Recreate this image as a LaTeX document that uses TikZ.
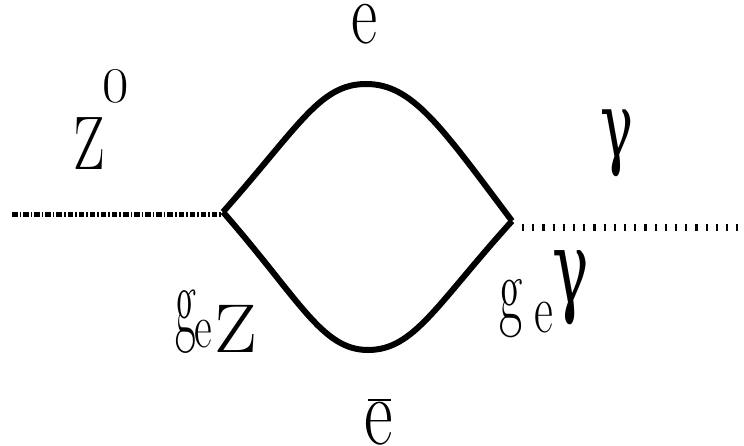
\documentclass[tikz,border=0pt]{standalone}
\usepackage{graphicx}
\usepackage{fontspec}
\newfontfamily\gfont{DejaVu Serif}
\newcommand{\glyph}[3]{\scalebox{#2}[1]{\fontsize{#1}{#1}\selectfont #3}}
\tikzset{
  lbl/.style={inner sep=0pt, outer sep=0pt},
  prop/.style={line width=6pt, line cap=butt},
  zline/.style={line width=5pt, dash pattern=on 5.5pt off 2pt on 1.6pt off 2pt},
  gline/.style={line width=7pt, dash pattern=on 2.2pt off 8pt}
}
\begin{document}
\begin{tikzpicture}[x=1pt,y=-1pt]
\useasboundingbox (0,0) rectangle (744,446);
\coordinate (L) at (223,212);
\coordinate (R) at (512,221);
\coordinate (T) at (366,84);
\coordinate (B) at (368,350);
\coordinate (zs) at (12,215);
\coordinate (ze) at (221,215);
\coordinate (gs) at (522,228);
\coordinate (ge) at (744,228);
% propagators
\draw[zline] (zs) -- (ze);
\draw[gline] (gs) -- (ge);
\draw[prop] (L) .. controls (300,125) and (320,84) .. (T) .. controls (412,84) and (440,125) .. (R);
\draw[prop] (L) .. controls (300,300) and (322,350) .. (B) .. controls (414,350) and (436,305) .. (R);
% labels
\node[lbl, anchor=base] (etop) at (364.5,44) {\glyph{89pt}{0.72}{e}};
\node[lbl] (Zbig) at (89,144) {\glyph{76pt}{0.74}{Z}};
\node[lbl] (zero) at (115.5,86.5) {\glyph{50pt}{1.15}{0}};
\node[lbl] (gam) at (617,143) {\glyph{92pt}{0.6}{\gfont γ}};
\node[lbl] (gL) at (186,322) {\glyph{98pt}{0.46}{g}};
\node[lbl] (eL) at (203.5,334) {\glyph{62pt}{0.7}{e}};
\node[lbl] (ZL) at (235.5,328.5) {\glyph{69pt}{1.1}{Z}};
\node[lbl] (gR) at (511.5,309) {\glyph{90pt}{0.56}{g}};
\node[lbl] (eR) at (544,317.5) {\glyph{69pt}{0.67}{e}};
\node[lbl] (gamR) at (571,288) {\glyph{102pt}{0.6}{\gfont γ}};
\node[lbl, anchor=base] (ebar) at (378.5,444) {\glyph{96pt}{0.73}{\rlap{\hspace{5.5pt}\raisebox{43pt}{\rule{31.5pt}{2.2pt}}}e}};
\end{tikzpicture}
\end{document}
